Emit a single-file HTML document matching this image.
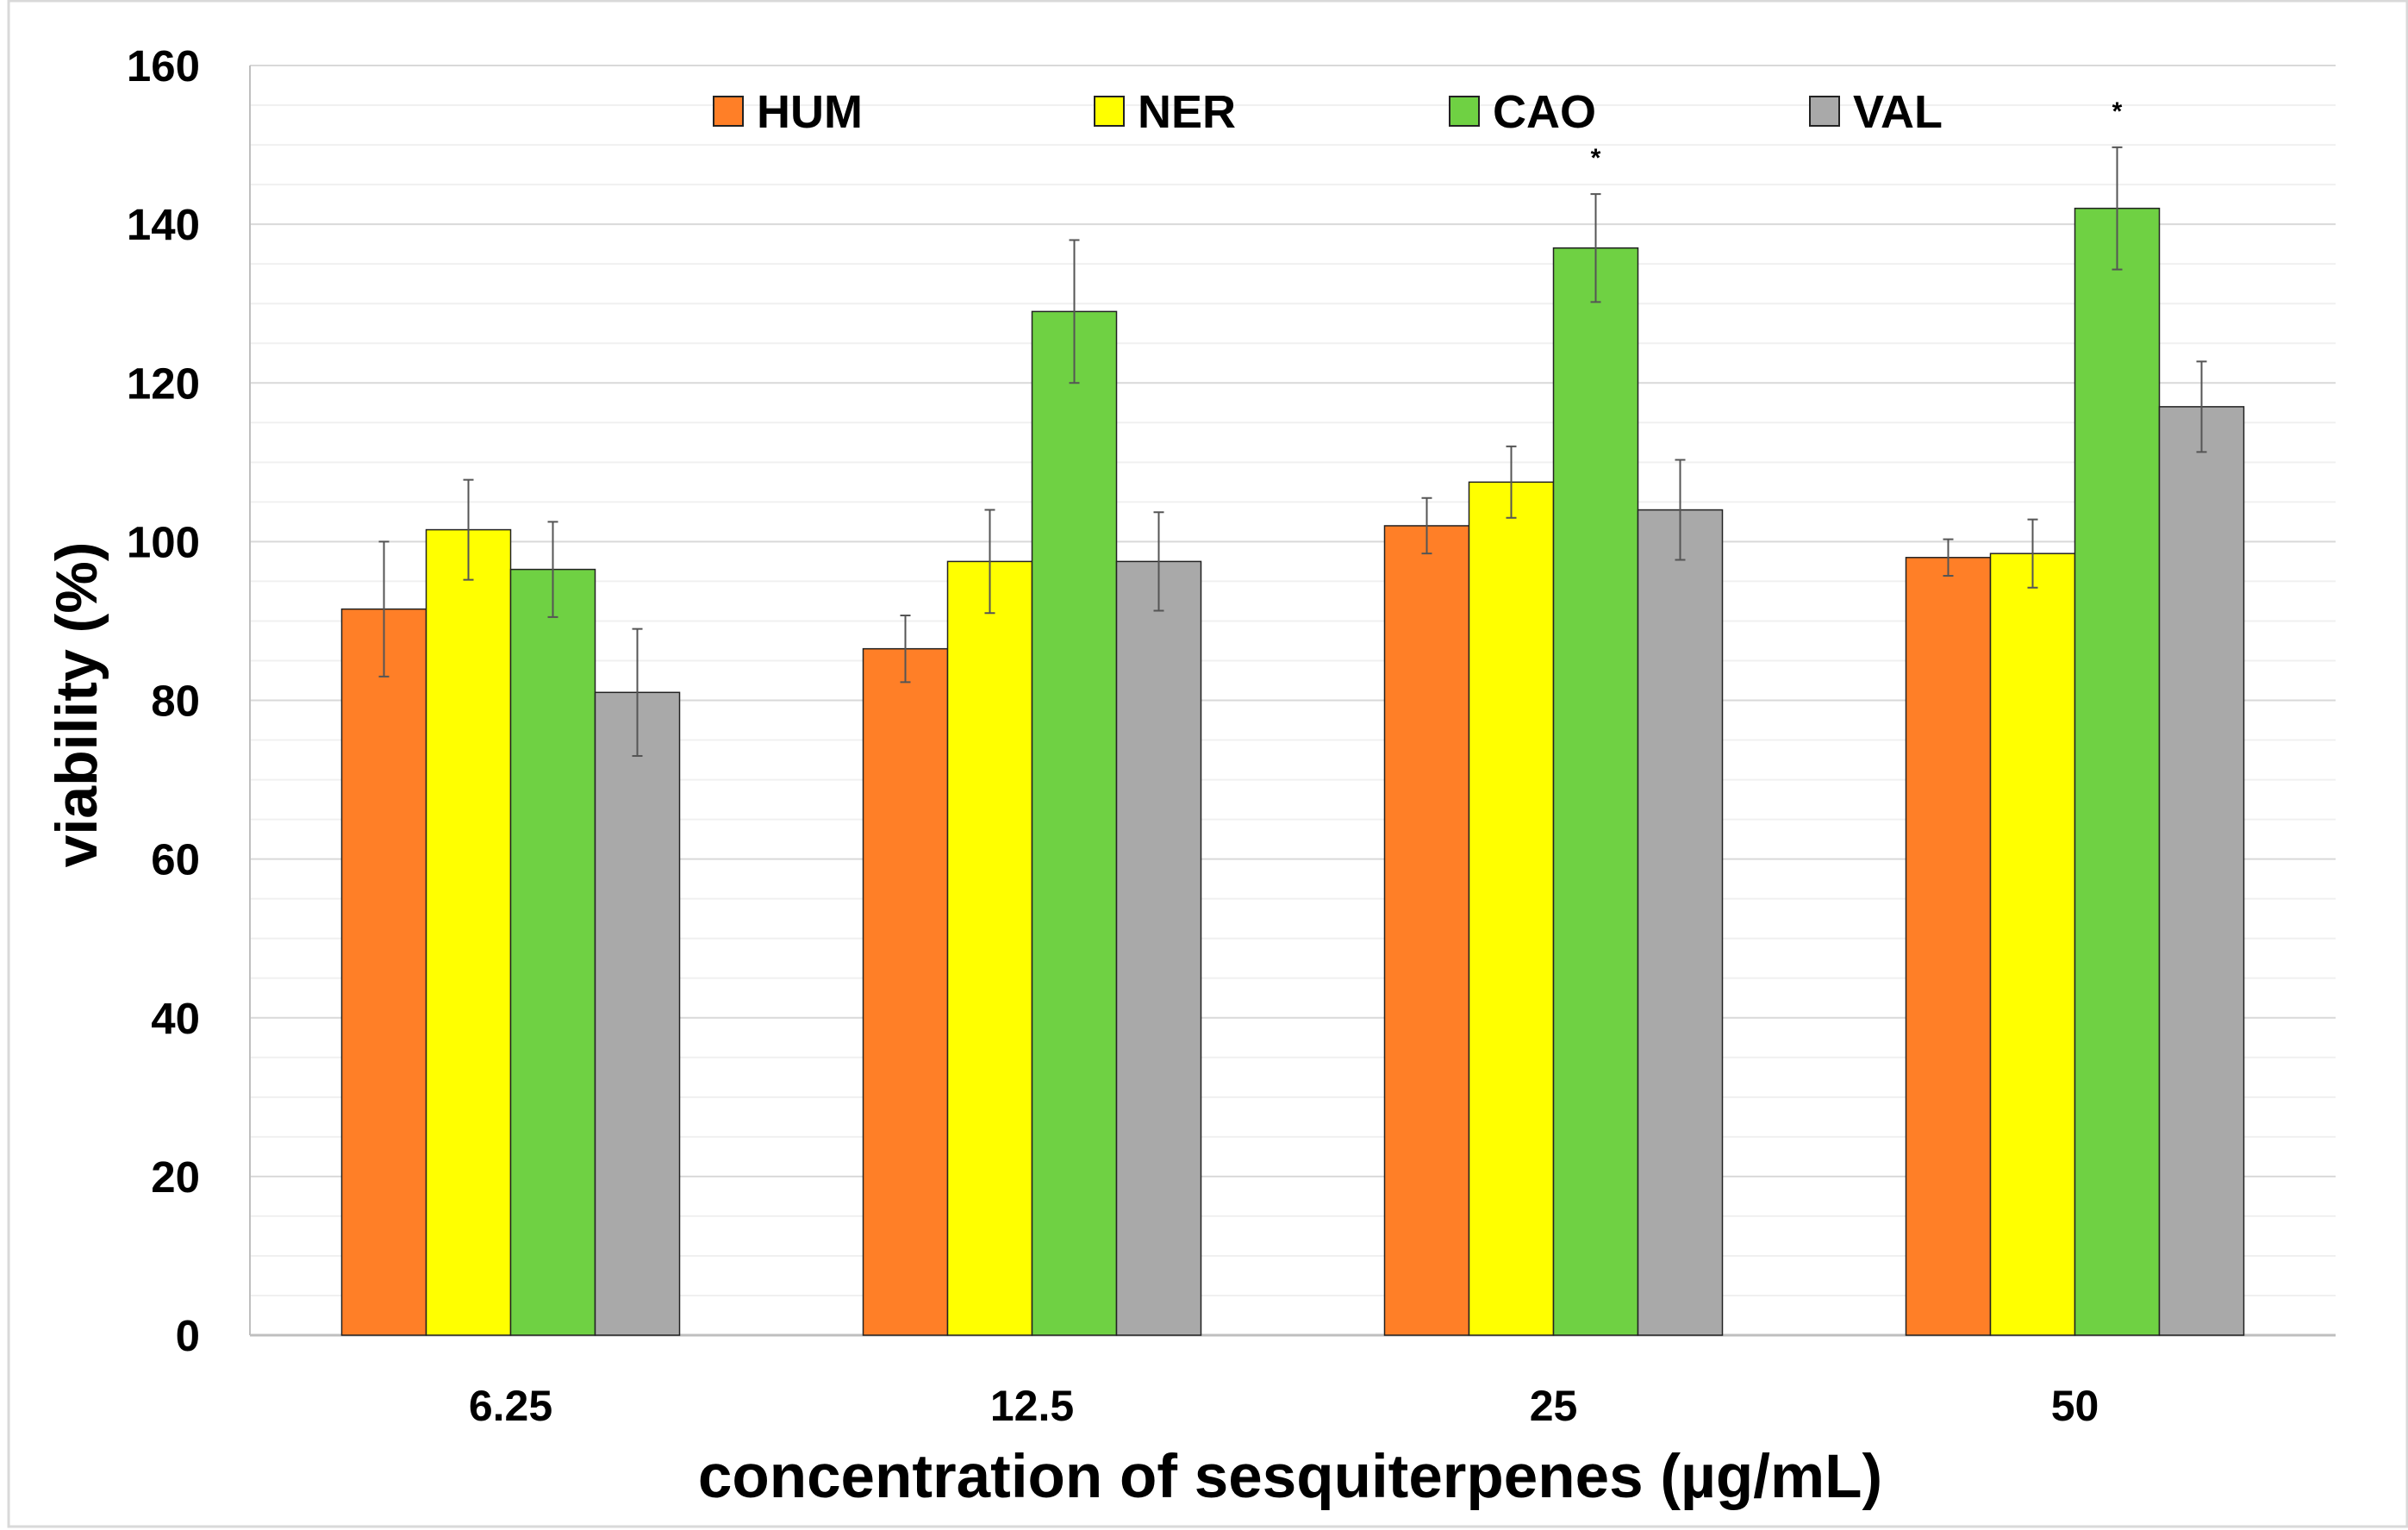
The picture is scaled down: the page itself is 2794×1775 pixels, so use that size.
<!DOCTYPE html>
<html><head><meta charset="utf-8">
<style>
html,body{margin:0;padding:0;background:#fff;width:2794px;height:1775px;overflow:hidden}
svg{display:block}
text{font-family:"Liberation Sans",sans-serif;font-weight:bold;fill:#000}
</style></head>
<body>
<svg id="chart" width="2794" height="1775" xmlns="http://www.w3.org/2000/svg">
<rect x="10" y="1" width="2783" height="1770" fill="none" stroke="#d9d9d9" stroke-width="3"/>
<g id="grid"></g><g id="bars"></g><g id="errs"></g><g id="axes"></g><g id="legend"></g>
</svg>
<script>
const categories = ["6.25","12.5","25","50"];
const seriesNames = ["HUM","NER","CAO","VAL"];
const seriesColors = ["#ff7f27","#ffff00","#6fd143","#a9a9a9"];
const humVals = [91.5, 86.5, 102, 98];
const nerVals = [101.5, 97.5, 107.5, 98.5];
const caoVals = [96.5, 129, 137, 142];
const valVals = [81, 97.5, 104, 117];
const humErr = [8.5, 4.2, 3.5, 2.3];
const nerErr = [6.3, 6.5, 4.5, 4.3];
const caoErr = [6, 9, 6.8, 7.7];
const valErr = [8, 6.2, 6.3, 5.7];
const yTicks = [0,20,40,60,80,100,120,140,160];
const starCats = ["25","50"];

const NS="http://www.w3.org/2000/svg";
const L=290, R=2710, Y0=1549, YT=76, YMAX=160;
const y=v=>Y0-(v/YMAX)*(Y0-YT);
const catW=(R-L)/categories.length;
const barW=98;
const xc=i=>L+catW*(i+0.5);
function mk(tag,attrs,parent){const e=document.createElementNS(NS,tag);for(const k in attrs)e.setAttribute(k,attrs[k]);parent.appendChild(e);return e;}
const grid=document.getElementById('grid'),bars=document.getElementById('bars'),errs=document.getElementById('errs'),axes=document.getElementById('axes'),legend=document.getElementById('legend');

for(let v=5;v<YMAX;v+=5){
  if(v%20===0)continue;
  const g=mk('line',{x1:L,x2:R,y1:y(v),y2:y(v),stroke:'#f0f0f0','stroke-width':2},grid);
  
  
}
yTicks.forEach(t=>{
  const g=mk('line',{x1:L,x2:R,y1:y(t),y2:y(t),stroke:t===0?'#bfbfbf':'#d9d9d9','stroke-width':t===0?3:2},grid);
  
  
  const tx=mk('text',{x:232,y:y(t)+18,'text-anchor':'end','font-size':51},axes);
  tx.textContent=t;
  
  
});
const ax=mk('line',{x1:L,x2:L,y1:YT,y2:Y0,stroke:'#bfbfbf','stroke-width':2},axes);



const vals=[humVals,nerVals,caoVals,valVals], errVals=[humErr,nerErr,caoErr,valErr];
categories.forEach((c,i)=>{
  const gx=xc(i)-barW*2;
  vals.forEach((s,j)=>{
    const bx=gx+j*barW;
    const b=mk('rect',{x:bx,y:y(s[i]),width:barW,height:Y0-y(s[i]),fill:seriesColors[j],stroke:'#222','stroke-width':1.5},bars);
    
    
    const cx=bx+barW/2, hi=y(s[i]+errVals[j][i]), lo=y(s[i]-errVals[j][i]);
    const e=mk('path',{d:`M${cx},${hi}V${lo}M${cx-6},${hi}H${cx+6}M${cx-6},${lo}H${cx+6}`,stroke:'#555','stroke-width':2,fill:'none'},errs);
    
    
  });
  const t=mk('text',{x:xc(i),y:1648,'text-anchor':'middle','font-size':50},axes);
  t.textContent=c;
  
  
  if(starCats.includes(c)){
    const cx=gx+2.5*barW;
    const st=mk('text',{x:cx,y:y(caoVals[i]+caoErr[i])-32,'text-anchor':'middle','font-size':30,fill:'#555'},axes);
    st.textContent='*';
    
    
  }
});

const yt=mk('text',{x:0,y:0,'text-anchor':'middle','font-size':68,transform:`translate(112,${(YT+Y0)/2+5}) rotate(-90)`},axes);
yt.textContent='viability (%)';


const xt=mk('text',{x:1497,y:1737,'text-anchor':'middle','font-size':71},axes);
xt.textContent='concentration of sesquiterpenes (µg/mL)';



const legX=[828,1270,1682,2100];
seriesNames.forEach((n,j)=>{
  const r=mk('rect',{x:legX[j],y:112,width:34,height:34,fill:seriesColors[j],stroke:'#222','stroke-width':2},legend);
  
  
  const t=mk('text',{x:legX[j]+50,y:148,'font-size':54},legend);
  t.textContent=n;
  
  
});
</script>
</body></html>
